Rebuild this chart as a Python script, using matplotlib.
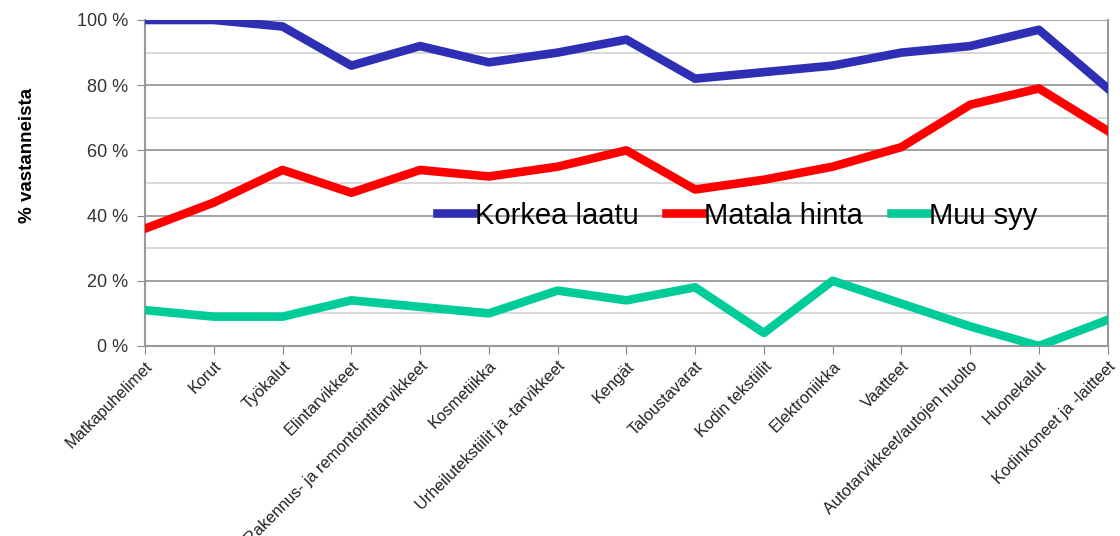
import matplotlib
matplotlib.use("Agg")
import matplotlib.pyplot as plt
from matplotlib.ticker import MultipleLocator, FuncFormatter

categories = ["Matkapuhelimet", "Korut", "Työkalut", "Elintarvikkeet",
              "Rakennus- ja remontointitarvikkeet", "Kosmetiikka",
              "Urheilutekstiilit ja -tarvikkeet", "Kengät", "Taloustavarat",
              "Kodin tekstiilit", "Elektroniikka", "Vaatteet",
              "Autotarvikkeet/autojen huolto", "Huonekalut", "Kodinkoneet ja -laitteet"]
korkea_laatu = [100, 100, 98, 86, 92, 87, 90, 94, 82, 84, 86, 90, 92, 97, 79]
matala_hinta = [36, 44, 54, 47, 54, 52, 55, 60, 48, 51, 55, 61, 74, 79, 66]
muu_syy = [11, 9, 9, 14, 12, 10, 17, 14, 18, 4, 20, 13, 6, 0, 8]
series_names = ["Korkea laatu", "Matala hinta", "Muu syy"]

plt.rcParams['font.family'] = ['Liberation Sans', 'DejaVu Sans']

fig = plt.figure(figsize=(11.2, 5.36), dpi=100)
ax = fig.add_axes([0.1295, 0.3545, 0.8595, 0.6082])

x = list(range(len(categories)))
lw = 6.2
ax.plot(x, korkea_laatu, color="#2F2FB5", lw=lw, label=series_names[0], zorder=3)
ax.plot(x, matala_hinta, color="#FF0000", lw=lw, label=series_names[1], zorder=3)
ax.plot(x, muu_syy, color="#00CC99", lw=lw, label=series_names[2], zorder=3)

ax.set_xlim(0, len(categories) - 1)
ax.set_ylim(0, 100)
ax.yaxis.set_major_locator(MultipleLocator(20))
ax.yaxis.set_minor_locator(MultipleLocator(10))
ax.yaxis.set_major_formatter(FuncFormatter(lambda v, p: f"{int(v)} %"))
ax.grid(axis='y', which='major', color='#9a9a9a', lw=1.3, zorder=0)
ax.grid(axis='y', which='minor', color='#d6d6d6', lw=1.3, zorder=0)
ax.tick_params(axis='y', which='minor', length=0)
ax.tick_params(axis='y', which='major', length=6, color='#888888', labelsize=13, labelcolor='#333333', pad=6)

ax.set_xticks(x)
ax.set_xticklabels(categories, rotation=45, ha='right', rotation_mode='anchor', fontsize=11.7)
ax.tick_params(axis='x', length=6, color='#888888', labelcolor='#222222', pad=3)

for s in ['left', 'bottom', 'right', 'top']:
    ax.spines[s].set_color('#999999')
    ax.spines[s].set_linewidth(1.5)
ax.spines['top'].set_visible(False)

ax.set_ylabel("% vastanneista", fontsize=13.5, fontweight='bold')
ax.yaxis.set_label_coords(-0.113, 0.585)

leg = ax.legend(loc='center', bbox_to_anchor=(0.615, 0.40), ncol=3, frameon=False,
                fontsize=21, handlelength=1.25, handletextpad=0.05, columnspacing=0.95)

fig.savefig("out.png", dpi=100)
